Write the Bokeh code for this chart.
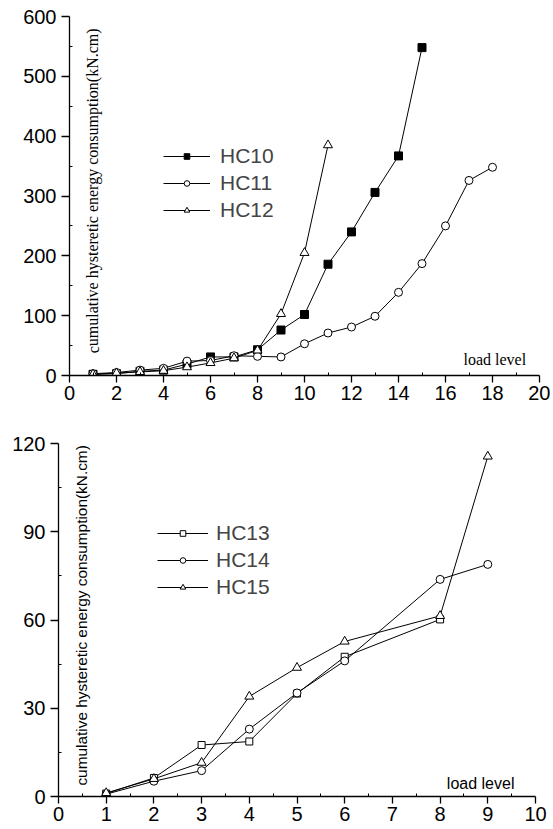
from bokeh.plotting import figure
from bokeh.models import Range1d, Legend, LegendItem, Label, FixedTicker
from bokeh.embed import file_html
from bokeh.resources import INLINE

# ---------------- data: top chart ----------------
hc10_x = [1, 2, 3, 4, 5, 6, 7, 8, 9, 10, 11, 12, 13, 14, 15]
hc10_y = [2, 3, 7, 9, 19, 31, 31, 43, 76, 102, 186, 240, 306, 367, 548]
hc11_x = [1, 2, 3, 4, 5, 6, 7, 8, 9, 10, 11, 12, 13, 14, 15, 16, 17, 18]
hc11_y = [3, 5, 9, 12, 24, 25, 33, 32, 31, 53, 71, 81, 99, 139, 187, 250, 326, 348]
hc12_x = [1, 2, 3, 4, 5, 6, 7, 8, 9, 10, 11]
hc12_y = [2, 4, 6, 8, 14, 21, 29, 42, 103, 205, 385]
top_xticks = [0, 2, 4, 6, 8, 10, 12, 14, 16, 18, 20]
top_yticks = [0, 100, 200, 300, 400, 500, 600]

# ---------------- data: bottom chart ----------------
hc13_x = [1, 2, 3, 4, 5, 6, 8]
hc13_y = [1.0, 6.3, 17.5, 18.7, 35.0, 47.5, 60.2]
hc14_x = [1, 2, 3, 4, 5, 6, 8, 9]
hc14_y = [0.8, 5.2, 8.8, 22.9, 35.2, 46.1, 73.8, 78.9]
hc15_x = [1, 2, 3, 4, 5, 6, 8, 9]
hc15_y = [1.2, 6.0, 11.5, 34.0, 43.8, 52.7, 61.4, 115.6]
bot_xticks = [0, 1, 2, 3, 4, 5, 6, 7, 8, 9, 10]
bot_yticks = [0, 30, 60, 90, 120]

ylabel_text = "cumulative hysteretic energy consumption(kN.cm)"
xlabel_text = "load level"

SANS = "Liberation Sans"
SERIF = "Liberation Serif"


def style_axes(p, xticks, yticks):
    p.xaxis.ticker = FixedTicker(ticks=xticks,
                                 minor_ticks=[(a + b) / 2 for a, b in zip(xticks[:-1], xticks[1:])])
    p.yaxis.ticker = FixedTicker(ticks=yticks,
                                 minor_ticks=[(a + b) / 2 for a, b in zip(yticks[:-1], yticks[1:])])
    for ax in (p.xaxis[0], p.yaxis[0]):
        ax.axis_line_color = "black"
        ax.axis_line_width = 1.3
        ax.major_tick_line_color = "black"
        ax.major_tick_line_width = 1.3
        ax.minor_tick_line_color = "black"
        ax.minor_tick_in = 3
        ax.minor_tick_out = 0
        ax.major_tick_in = 0
        ax.major_label_text_font = SANS
        ax.major_label_text_font_size = "20px"
        ax.major_label_text_color = "black"
    p.xaxis.major_tick_out = 7
    p.xaxis.major_label_standoff = 3
    p.yaxis.major_tick_out = 8
    p.yaxis.major_label_standoff = 5
    p.xgrid.visible = False
    p.ygrid.visible = False
    p.outline_line_color = None


# ---------------- top figure ----------------
p1 = figure(width=550, height=405, output_backend="svg", toolbar_location=None,
            x_range=Range1d(0, 20), y_range=Range1d(0, 600),
            min_border_left=69, min_border_right=11, min_border_top=16, min_border_bottom=30)
style_axes(p1, top_xticks, top_yticks)

l10 = p1.line(hc10_x, hc10_y, line_color="black", line_width=1)
s10 = p1.scatter(hc10_x, hc10_y, marker="square", size=8, fill_color="black", line_color="black")
l11 = p1.line(hc11_x, hc11_y, line_color="black", line_width=1)
s11 = p1.scatter(hc11_x, hc11_y, marker="circle", size=8, fill_color="white", line_color="black")
l12 = p1.line(hc12_x, hc12_y, line_color="black", line_width=1)
s12 = p1.scatter(hc12_x, hc12_y, marker="triangle", size=9, fill_color="white", line_color="black")

leg1 = Legend(items=[LegendItem(label="HC10", renderers=[l10, s10]),
                     LegendItem(label="HC11", renderers=[l11, s11]),
                     LegendItem(label="HC12", renderers=[l12, s12])],
              location=(94, 152), glyph_width=47, glyph_height=14, label_height=27,
              label_standoff=10, spacing=0, padding=0, margin=0,
              label_text_font=SANS, label_text_font_size="21px",
              border_line_color=None, background_fill_alpha=0)
p1.add_layout(leg1, "center")

p1.add_layout(Label(x=1.0, y=37, text=ylabel_text, angle=1.5708, angle_units="rad",
                    text_font=SERIF, text_font_size="16px", text_align="left",
                    text_baseline="middle", text_color="black"))
p1.add_layout(Label(x=18.1, y=27, text=xlabel_text, text_font=SERIF, text_font_size="16px",
                    text_align="center", text_baseline="alphabetic", text_color="black"))

# ---------------- bottom figure ----------------
p2 = figure(width=550, height=422, output_backend="svg", toolbar_location=None,
            x_range=Range1d(0, 10), y_range=Range1d(0, 120),
            min_border_left=58, min_border_right=15, min_border_top=38, min_border_bottom=31)
style_axes(p2, bot_xticks, bot_yticks)

l13 = p2.line(hc13_x, hc13_y, line_color="black", line_width=1)
s13 = p2.scatter(hc13_x, hc13_y, marker="square", size=7, fill_color="white", line_color="black")
l14 = p2.line(hc14_x, hc14_y, line_color="black", line_width=1)
s14 = p2.scatter(hc14_x, hc14_y, marker="circle", size=8, fill_color="white", line_color="black")
l15 = p2.line(hc15_x, hc15_y, line_color="black", line_width=1)
s15 = p2.scatter(hc15_x, hc15_y, marker="triangle", size=9, fill_color="white", line_color="black")

leg2 = Legend(items=[LegendItem(label="HC13", renderers=[l13, s13]),
                     LegendItem(label="HC14", renderers=[l14, s14]),
                     LegendItem(label="HC15", renderers=[l15, s15])],
              location=(99, 196), glyph_width=51, glyph_height=14, label_height=27,
              label_standoff=8, spacing=0, padding=0, margin=0,
              label_text_font=SANS, label_text_font_size="21px",
              border_line_color=None, background_fill_alpha=0)
p2.add_layout(leg2, "center")

p2.add_layout(Label(x=0.49, y=3.7, text=ylabel_text, angle=1.5708, angle_units="rad",
                    text_font=SANS, text_font_size="15.4px", text_align="left",
                    text_baseline="middle", text_color="black"))
p2.add_layout(Label(x=8.85, y=4.4, text=xlabel_text, text_font=SANS, text_font_size="16px",
                    text_align="center", text_baseline="alphabetic", text_color="black"))

open("out.html", "w").write(file_html([p1, p2], INLINE))
